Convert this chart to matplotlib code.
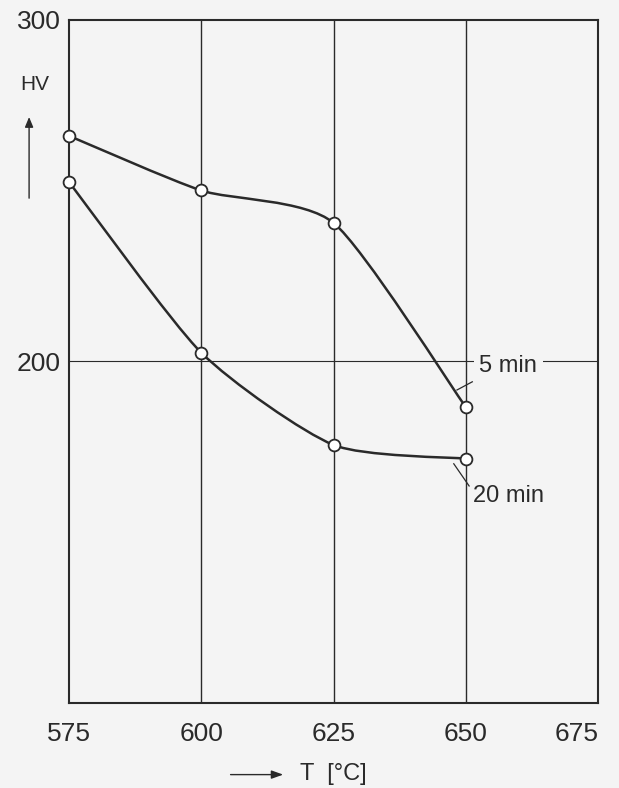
import matplotlib.pyplot as plt
import numpy as np
from matplotlib.path import Path
from matplotlib.patches import PathPatch, FancyArrowPatch

temps = [575, 600, 625, 650]
hv_5min = [266, 250, 240.5, 186.5]
hv_20min = [252.5, 202.5, 175.5, 171.5]
x_ticks = [575, 600, 625, 650, 675]
y_ticks = [200, 300]

BG = "#f4f4f4"
INK = "#2a2a2a"
FONT = ["Liberation Sans", "DejaVu Sans"]


def smooth_path(xs, ys, tension=9.0):
    # Catmull-Rom turned into cubic bezier segments through the data points
    pts = np.column_stack([xs, ys]).astype(float)
    verts = [pts[0]]
    codes = [Path.MOVETO]
    n = len(pts)
    for i in range(n - 1):
        p0 = pts[i - 1] if i > 0 else pts[i]
        p1 = pts[i]
        p2 = pts[i + 1]
        p3 = pts[i + 2] if i + 2 < n else pts[i + 1]
        c1 = p1 + (p2 - p0) / tension
        c2 = p2 - (p3 - p1) / tension
        verts += [c1, c2, p2]
        codes += [Path.CURVE4] * 3
    return Path(verts, codes)


fig = plt.figure(figsize=(6.19, 7.88), dpi=100, facecolor=BG)
ax = fig.add_axes([0.1115, 0.108, 0.855, 0.867], facecolor=BG)
ax.set_xlim(575, 675)
ax.set_ylim(100, 300)

for x in [600, 625, 650]:
    ax.axvline(x, color=INK, lw=1.0, zorder=1)
ax.axhline(200, color=INK, lw=0.8, zorder=1)

for series in (hv_5min, hv_20min):
    ax.add_patch(PathPatch(smooth_path(temps, series), facecolor="none",
                           edgecolor=INK, lw=1.8, zorder=3))
    ax.plot(temps, series, ls="none", marker="o", ms=8.5, mfc="white",
            mec=INK, mew=1.3, zorder=4, clip_on=False)

for s in ax.spines.values():
    s.set_color(INK)
    s.set_linewidth(1.5)

ax.set_xticks(x_ticks)
ax.set_yticks(y_ticks)
ax.set_xticklabels([str(v) for v in x_ticks], family=FONT, fontsize=19, color=INK)
ax.set_yticklabels([str(v) for v in y_ticks], family=FONT, fontsize=19, color=INK)
ax.tick_params(length=0, pad=14)
ax.tick_params(axis="y", pad=6)
labels = ax.get_xticklabels()
labels[-1].set_horizontalalignment("right")

# labels for the curves
ax.text(652.5, 198.5, "5 min", family=FONT, fontsize=17, color=INK,
        ha="left", va="center", zorder=5,
        bbox=dict(facecolor=BG, edgecolor="none", pad=4))
ax.plot([648.3, 651.2], [191.6, 194.0], color=INK, lw=0.9, zorder=5)
ax.text(651.3, 160.5, "20 min", family=FONT, fontsize=17, color=INK,
        ha="left", va="center", zorder=5)
ax.plot([647.7, 650.6], [170.0, 163.5], color=INK, lw=0.9, zorder=5)

# axis titles with arrows
fig.text(0.033, 0.893, "HV", family=FONT, fontsize=15, color=INK,
         ha="left", va="center")
fig.add_artist(FancyArrowPatch(
    (0.047, 0.745), (0.047, 0.855), transform=fig.transFigure,
    arrowstyle="-|>,head_length=6,head_width=2.5", color=INK, lw=1.0))
fig.text(0.485, 0.004, "T  [°C]", family=FONT, fontsize=17, color=INK,
         ha="left", va="bottom")
fig.add_artist(FancyArrowPatch(
    (0.368, 0.017), (0.462, 0.017), transform=fig.transFigure,
    arrowstyle="-|>,head_length=7,head_width=2.5", color=INK, lw=1.0))

fig.savefig("out.png", dpi=100, facecolor=BG)
